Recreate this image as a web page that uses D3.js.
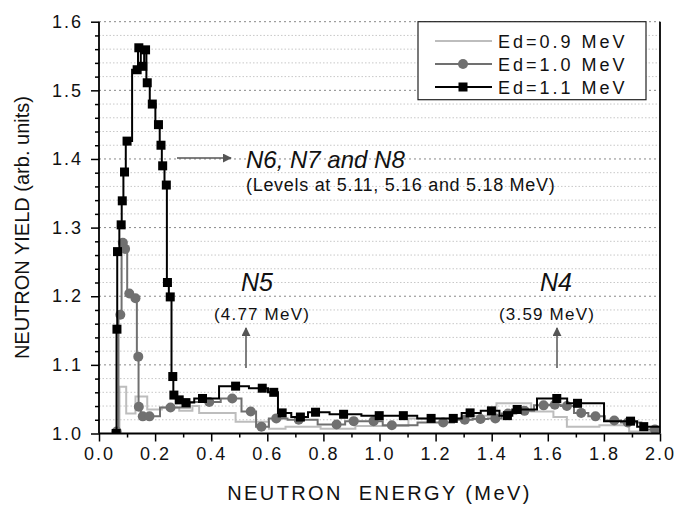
<!DOCTYPE html>
<html><head><meta charset="utf-8">
<script src="https://cdn.jsdelivr.net/npm/d3@7"></script>
<style>body{margin:0;background:#fff} text{font-family:"Liberation Sans",Arial,sans-serif;fill:#111}</style>
</head><body><svg id="c" width="676" height="506"></svg>
<script>
// ---- data ----
const xTickValues = [0,0.2,0.4,0.6,0.8,1.0,1.2,1.4,1.6,1.8,2.0];
const yTickValues = [1.0,1.1,1.2,1.3,1.4,1.5,1.6];
const seriesNames = ["Ed=0.9 MeV","Ed=1.0 MeV","Ed=1.1 MeV"];

// Ed=0.9 MeV : histogram bin starts / values (step after)
const e09X = [0.060,0.073,0.097,0.130,0.172,0.224,0.286,0.333,0.357,0.487,0.606,0.665,0.790,0.914,1.103,1.300,1.417,1.541,1.620,1.668,1.784,1.890,2.000];
const e09Y = [1.000,1.068,1.029,1.054,1.035,1.038,1.033,1.040,1.030,1.017,1.007,1.010,1.007,1.011,1.022,1.026,1.044,1.032,1.024,1.010,1.012,1.003,1.003];

// Ed=1.0 MeV : points (circles)
const e10X = [0.063,0.076,0.085,0.093,0.108,0.130,0.140,0.142,0.156,0.180,0.255,0.393,0.475,0.541,0.579,0.632,0.712,0.847,0.908,0.979,1.044,1.227,1.304,1.360,1.413,1.458,1.517,1.585,1.625,1.668,1.719,1.770,1.837,1.885,1.982];
const e10Y = [1.003,1.173,1.278,1.269,1.204,1.197,1.112,1.039,1.025,1.025,1.038,1.046,1.051,1.032,1.010,1.022,1.020,1.013,1.018,1.018,1.012,1.016,1.020,1.021,1.022,1.029,1.033,1.041,1.042,1.040,1.030,1.025,1.019,1.016,1.006];

// Ed=1.1 MeV : points (squares)
const e11X = [0.061,0.064,0.066,0.079,0.083,0.091,0.100,0.136,0.142,0.156,0.166,0.172,0.190,0.212,0.221,0.227,0.240,0.244,0.254,0.263,0.267,0.286,0.310,0.369,0.487,0.582,0.623,0.653,0.718,0.772,0.872,0.999,1.085,1.184,1.263,1.323,1.399,1.456,1.491,1.632,1.706,1.895,1.942];
const e11Y = [1.000,1.152,1.265,1.304,1.339,1.381,1.426,1.530,1.562,1.535,1.559,1.511,1.480,1.450,1.420,1.390,1.362,1.220,1.199,1.083,1.056,1.049,1.045,1.051,1.069,1.066,1.060,1.030,1.024,1.031,1.028,1.026,1.026,1.022,1.022,1.030,1.033,1.026,1.035,1.051,1.044,1.018,1.010];

// ---- chart ----
const svg = d3.select("#c");
const L = 99, R = 660, T = 21.7, B = 433.5;
const x = d3.scaleLinear().domain([0,2]).range([L,R]);
const y = d3.scaleLinear().domain([1.0,1.6]).range([B,T]);

// grid lines
const minorY = d3.range(1.02,1.6,0.02).filter(v=>Math.abs(v*10-Math.round(v*10))>0.01);
svg.append("g").selectAll("line").data(minorY).join("line")
  .attr("x1",L).attr("x2",R).attr("y1",d=>y(d)).attr("y2",d=>y(d))
  .attr("stroke","#c8c8c8").attr("stroke-width",1).attr("stroke-dasharray","1.5,2");
svg.append("g").selectAll("line").data(yTickValues.slice(1)).join("line")
  .attr("x1",L).attr("x2",R).attr("y1",d=>y(d)).attr("y2",d=>y(d))
  .attr("stroke","#888").attr("stroke-width",1).attr("stroke-dasharray","2,3");

svg.append("clipPath").attr("id","clip").append("rect")
  .attr("x",L).attr("y",T-5).attr("width",R-L).attr("height",B-T+5);
const g = svg.append("g").attr("clip-path","url(#clip)");

const pts = (xs,ys)=>xs.map((v,i)=>[v,ys[i]]);
const d09 = pts(e09X,e09Y), d10 = pts(e10X,e10Y), d11 = pts(e11X,e11Y);

g.append("path").datum(d09)
  .attr("d",d3.line().x(d=>x(d[0])).y(d=>y(d[1])).curve(d3.curveStepAfter))
  .attr("fill","none").attr("stroke","#bdbdbd").attr("stroke-width",2);
g.append("path").datum(d10)
  .attr("d",d3.line().x(d=>x(d[0])).y(d=>y(d[1])).curve(d3.curveStep))
  .attr("fill","none").attr("stroke","#707070").attr("stroke-width",2);
g.append("g").selectAll("circle").data(d10).join("circle")
  .attr("cx",d=>x(d[0])).attr("cy",d=>y(d[1])).attr("r",5).attr("fill","#707070");
const d11line = d11.concat([[2.0,1.010]]);
g.append("path").datum(d11line)
  .attr("d",d3.line().x(d=>x(d[0])).y(d=>y(d[1])).curve(d3.curveStep))
  .attr("fill","none").attr("stroke","#000").attr("stroke-width",2);
g.append("g").selectAll("rect").data(d11).join("rect")
  .attr("x",d=>x(d[0])-4.5).attr("y",d=>y(d[1])-4.5).attr("width",9).attr("height",9).attr("fill","#000");

// axes
const xAxis = d3.axisBottom(x).tickValues(xTickValues).tickFormat(d3.format(".1f")).tickSize(8).tickPadding(6);
const gx = svg.append("g").attr("transform",`translate(0,${B})`).call(xAxis);
gx.selectAll(".tick line").attr("stroke-width",1.5);
const gxm = svg.append("g").attr("transform",`translate(0,${B})`)
  .call(d3.axisBottom(x).tickValues(d3.range(0.1,2,0.2)).tickSize(4).tickFormat(""));
gxm.select(".domain").remove();
gxm.selectAll(".tick line").attr("stroke-width",1.5);

const yAxis = d3.axisLeft(y).tickValues(yTickValues).tickFormat(d3.format(".1f")).tickSize(8).tickPadding(8);
const gy = svg.append("g").attr("transform",`translate(${L},0)`).call(yAxis);
gy.selectAll(".tick line").attr("stroke-width",1.5);
const gym = svg.append("g").attr("transform",`translate(${L},0)`)
  .call(d3.axisLeft(y).tickValues(minorY).tickSize(4).tickFormat(""));
gym.select(".domain").remove();
gym.selectAll(".tick line").attr("stroke-width",1.5);

[gx,gy].forEach(a=>{a.select(".domain").attr("stroke-width",1.8);
  a.selectAll(".tick text").attr("font-size",18).attr("font-family","Liberation Sans, Arial, sans-serif").attr("fill","#111").attr("letter-spacing","2px");});
gy.select(".domain").attr("d",`M0,${B}V${T}`);
gx.select(".domain").attr("d",`M${L},0H${R}`);

// right border
svg.append("line").attr("x1",R).attr("x2",R).attr("y1",T).attr("y2",B).attr("stroke","#000").attr("stroke-width",1.8);

// axis titles
svg.append("text").attr("x",(L+R)/2).attr("y",500).attr("text-anchor","middle")
  .attr("font-size",20).attr("letter-spacing","2.4px").text("NEUTRON  ENERGY (MeV)").style("white-space","pre");
svg.append("text").attr("transform",`translate(29,${(T+B)/2}) rotate(-90)`).attr("text-anchor","middle")
  .attr("font-size",20).text("NEUTRON YIELD (arb. units)");

// legend
const lg = svg.append("g");
lg.append("rect").attr("x",418).attr("y",T).attr("width",228).attr("height",78)
  .attr("fill","#fff").attr("stroke","#222").attr("stroke-width",1.2);
const rowsY = [41,64,87];
const lstyle = [{c:"#bdbdbd"},{c:"#707070",m:"circle"},{c:"#000",m:"square"}];
seriesNames.forEach((n,i)=>{
  lg.append("line").attr("x1",435).attr("x2",492).attr("y1",rowsY[i]).attr("y2",rowsY[i])
    .attr("stroke",lstyle[i].c).attr("stroke-width",2);
  if(lstyle[i].m==="circle") lg.append("circle").attr("cx",463).attr("cy",rowsY[i]).attr("r",5).attr("fill",lstyle[i].c);
  if(lstyle[i].m==="square") lg.append("rect").attr("x",458.5).attr("y",rowsY[i]-4.5).attr("width",9).attr("height",9).attr("fill",lstyle[i].c);
  lg.append("text").attr("x",498).attr("y",rowsY[i]+6.5).attr("font-size",18).attr("letter-spacing","3px").text(n);
});

// annotations
svg.append("defs").append("marker").attr("id","ah").attr("viewBox","0 0 10 10").attr("refX",9).attr("refY",5)
  .attr("markerWidth",9).attr("markerHeight",9).attr("markerUnits","userSpaceOnUse").attr("orient","auto")
  .append("path").attr("d","M0,0L10,5L0,10z").attr("fill","#555");
function arrow(x1,y1,x2,y2){svg.append("line").attr("x1",x1).attr("y1",y1).attr("x2",x2).attr("y2",y2)
  .attr("stroke","#555").attr("stroke-width",1.5).attr("marker-end","url(#ah)");}
arrow(177,158,231,158);
arrow(246,368,246,328);
arrow(557,368,557,328);

svg.append("text").attr("x",246).attr("y",168).attr("font-size",24).attr("font-style","italic").attr("fill","#333").text("N6, N7 and N8");
svg.append("text").attr("x",246).attr("y",191).attr("font-size",18).attr("letter-spacing","0.7px").attr("fill","#333").text("(Levels at 5.11, 5.16 and 5.18 MeV)");
svg.append("text").attr("x",257).attr("y",291).attr("text-anchor","middle").attr("font-size",25).attr("font-style","italic").attr("fill","#333").text("N5");
svg.append("text").attr("x",262).attr("y",320).attr("text-anchor","middle").attr("font-size",17).attr("letter-spacing","1.2px").attr("fill","#333").text("(4.77 MeV)");
svg.append("text").attr("x",556).attr("y",291).attr("text-anchor","middle").attr("font-size",25).attr("font-style","italic").attr("fill","#333").text("N4");
svg.append("text").attr("x",547).attr("y",320).attr("text-anchor","middle").attr("font-size",17).attr("letter-spacing","1.2px").attr("fill","#333").text("(3.59 MeV)");
</script></body></html>
